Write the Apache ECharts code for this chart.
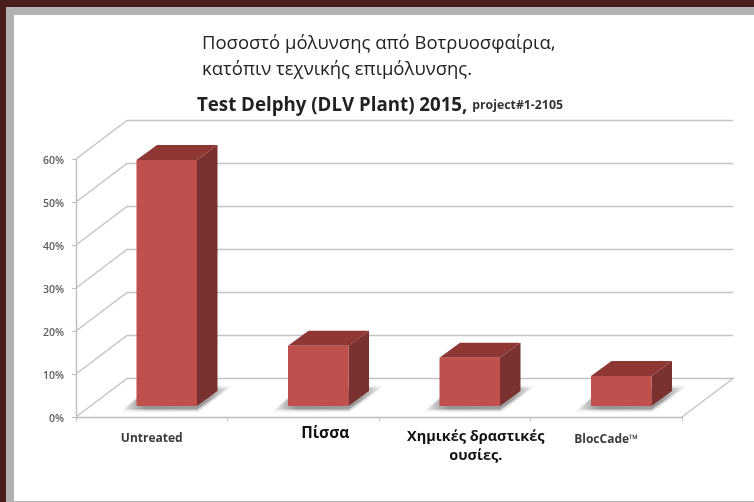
<!DOCTYPE html>
<html>
<head>
<meta charset="utf-8">
<style>
  html, body { margin: 0; padding: 0; background: #fff; }
  #chart { width: 754px; height: 502px; }
</style>
<script src="https://cdn.jsdelivr.net/npm/echarts@6/dist/echarts.min.js"></script>
</head>
<body>
<div id="chart"></div>
<script>
const categories = ['Untreated', 'Πίσσα', 'Χημικές δραστικές\nουσίες.', 'BlocCade™'];
const infection = [57.2, 14, 11.2, 7];
const yTicks = [0, 10, 20, 30, 40, 50, 60];

const categoryStyle = ['en', 'pi', 'gr', 'bc'];
const sideX = 51, sideY = -38.5;
const barX = 20.5, barY = -15;
const barInsetX = 15, barInsetY = -11;
const barWidth = 60.5;

function poly(points, fill, extra) {
  return {
    type: 'polygon',
    shape: { points: points },
    style: Object.assign({ fill: fill }, extra || {}),
  };
}

function renderWall(params, api) {
  const grid = params.coordSys;
  const y = api.coord([0, api.value(1)])[1];
  const left = grid.x;
  const right = grid.x + grid.width;
  const line = { stroke: '#c4c4c4', lineWidth: 1.4, fill: 'none' };
  const pts = [[left, y], [left + sideX, y + sideY], [right + sideX, y + sideY]];
  if (api.value(1) === 0) pts.push([right, y]);
  return { type: 'polyline', shape: { points: pts }, style: line };
}

function renderBar(params, api) {
  const cx = api.coord([api.value(0), 0])[0];
  const base = api.coord([api.value(0), 0])[1] + barInsetY;
  const top = api.coord([api.value(0), api.value(1)])[1] + barInsetY;
  const l = cx + barInsetX - barWidth / 2;
  const r = l + barWidth;
  // floor shadow, soft outer layer then darker core
  const outer = new echarts.graphic.LinearGradient(0, 0, 1, 0, [
    { offset: 0, color: 'rgba(170,170,170,0.1)' },
    { offset: 0.25, color: 'rgba(170,170,170,0.45)' },
    { offset: 0.8, color: 'rgba(170,170,170,0.45)' },
    { offset: 1, color: 'rgba(170,170,170,0.05)' },
  ]);
  const core = new echarts.graphic.LinearGradient(0, 0, 1, 0, [
    { offset: 0, color: 'rgba(120,120,120,0.1)' },
    { offset: 0.2, color: 'rgba(120,120,120,0.7)' },
    { offset: 0.8, color: 'rgba(120,120,120,0.6)' },
    { offset: 1, color: 'rgba(120,120,120,0.05)' },
  ]);
  return {
    type: 'group',
    children: [
      poly([[l - 16, base + 5.5], [r + 1, base + 5.5], [r + 36, base - 20], [r + 5, base - 20], [l, base - 9]], outer),
      poly([[l - 12, base + 3.5], [r, base + 3.5], [r + 31, base - 18], [r + 5, base - 18], [l, base - 7]], core),
      poly([[l, top], [r, top], [r + barX, top + barY], [l + barX, top + barY]], '#8f3735'),
      poly([[r, top], [r + barX, top + barY], [r + barX, base + barY], [r, base]], '#7b3130'),
      poly([[l, top], [r, top], [r, base], [l, base]], '#c0504d'),
    ],
  };
}

const chart = echarts.init(document.getElementById('chart'));
chart.setOption({
  animation: false,
  backgroundColor: '#fff',
  textStyle: { fontFamily: '"Open Sans", sans-serif' },
  title: {
    text: '{a|Test Delphy (DLV Plant) 2015, }{b|project#1-2105}',
    left: 197,
    top: 96,
    padding: 0,
    textStyle: {
      rich: {
        a: { fontFamily: '"Open Sans", sans-serif', fontSize: 18.7, fontWeight: 'bold', color: '#222' },
        b: { fontFamily: '"Open Sans", sans-serif', fontSize: 12.3, fontWeight: 'bold', color: '#333' },
      },
    },
  },
  graphic: [
    { type: 'rect', silent: true, z: -1, shape: { x: 0, y: 0, width: 754, height: 7 }, style: { fill: '#4a1c1c' } },
    { type: 'rect', silent: true, z: -1, shape: { x: 0, y: 0, width: 6, height: 502 }, style: { fill: '#4a1c1c' } },
    { type: 'rect', silent: true, z: -1, shape: { x: 6, y: 7, width: 748, height: 8 }, style: { fill: '#b2b2b2' } },
    { type: 'rect', silent: true, z: -1, shape: { x: 6, y: 7, width: 8, height: 495 }, style: { fill: '#b2b2b2' } },
    { type: 'rect', silent: true, z: -1, shape: { x: 14, y: 501, width: 740, height: 1 }, style: { fill: '#b2b2b2' } },
    {
      type: 'text',
      left: 202,
      top: 31,
      style: {
        text: 'Ποσοστό μόλυνσης από Βοτρυοσφαίρια,\nκατόπιν τεχνικής επιμόλυνσης.',
        font: '18.5px "Open Sans", sans-serif',
        lineHeight: 26,
        fill: '#222',
      },
    },
  ],
  grid: { left: 76, right: 72, top: 159, bottom: 85 },
  xAxis: {
    type: 'category',
    data: categories,
    axisLine: { lineStyle: { color: '#bdbdbd', width: 1.4 } },
    axisTick: { show: true, length: 4, lineStyle: { color: '#bdbdbd' } },
    axisLabel: {
      interval: 0,
      margin: 9,
      formatter: function (value, index) {
        const key = categoryStyle[index];
        return value.split('\n').map(function (s) { return '{' + key + '|' + s + '}'; }).join('\n');
      },
      rich: {
        en: { fontSize: 12, fontWeight: 'bold', color: '#3a3a3a', padding: [7, 0, 0, 0] },
        pi: { fontSize: 15.5, fontWeight: 'bold', color: '#111', padding: [0, 0, 0, 44] },
        gr: { fontSize: 14.5, fontWeight: 'bold', color: '#111', lineHeight: 19, padding: [2, 0, 0, 42] },
        bc: { fontSize: 12, fontWeight: 'bold', color: '#3a3a3a', padding: [8, 0, 0, 0] },
      },
    },
  },
  yAxis: {
    type: 'value',
    min: 0,
    max: 60,
    interval: 10,
    splitLine: { show: false },
    axisLine: { show: true, lineStyle: { color: '#bdbdbd', width: 1.4 } },
    axisTick: { show: true, length: 4, lineStyle: { color: '#bdbdbd' } },
    axisLabel: {
      margin: 12,
      fontSize: 10.5,
      fontWeight: 600,
      color: '#5c5c5c',
      lineHeight: 4,
      verticalAlign: 'top',
      formatter: '{value}%',
    },
  },
  series: [
    {
      type: 'custom',
      silent: true,
      renderItem: renderWall,
      encode: { x: 0, y: 1 },
      data: yTicks.map(function (t) { return [0, t]; }),
      z: 1,
    },
    {
      type: 'custom',
      silent: true,
      renderItem: renderBar,
      encode: { x: 0, y: 1 },
      data: infection.map(function (v, i) { return [i, v]; }),
      z: 3,
    },
  ],
});
</script>
</body>
</html>
